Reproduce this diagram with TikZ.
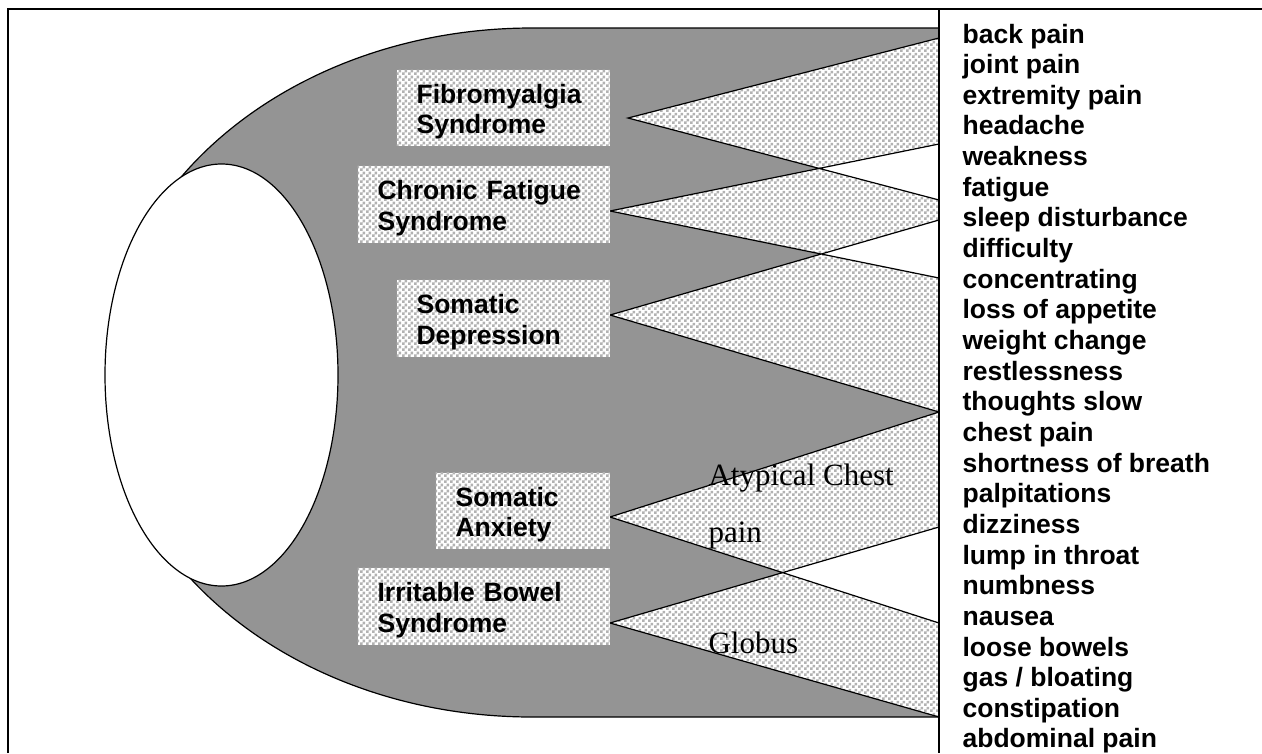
\documentclass[tikz,border=0pt]{standalone}
\usepackage{fontspec}
\setmainfont{Liberation Sans}
\newfontfamily\timesf{Liberation Serif}
\usetikzlibrary{patterns}
\definecolor{bggray}{RGB}{148,148,148}
\definecolor{chk}{RGB}{178,178,178}
\pgfdeclarepatternformonly{mycheck}{\pgfpointorigin}{\pgfqpoint{6pt}{6pt}}{\pgfqpoint{6pt}{6pt}}%
{%
  \pgfpathrectangle{\pgfpointorigin}{\pgfqpoint{3.05pt}{3.05pt}}%
  \pgfpathrectangle{\pgfqpoint{3pt}{3pt}}{\pgfqpoint{3.05pt}{3.05pt}}%
  \pgfusepath{fill}%
}
\newcommand{\topstrut}{\rule{0pt}{27pt}}
\begin{document}
\begin{tikzpicture}[x=1pt,y=-1pt,line width=1.2pt,
  checkfill/.style={fill=white,postaction={pattern=mycheck,pattern color=chk}},
  box/.style={checkfill,draw=none,align=left,inner xsep=20pt,inner ysep=0pt,
    anchor=north west,font=\bfseries\fontsize{26.5}{30.5}\selectfont},
  sym/.style={anchor=base west,inner sep=0pt,font=\bfseries\fontsize{26.5}{30.5}\selectfont},
  ser/.style={anchor=base west,inner sep=0pt,font=\timesf\fontsize{31}{36}\selectfont}]
\useasboundingbox (0,0) rectangle (1262,753);

% grey body
\draw[fill=bggray] (939,28) -- (532,28)
  arc[start angle=90,end angle=270,x radius=426pt,y radius=344.5pt] -- (939,717);

% wedge points
\coordinate (fA) at (628,118); \coordinate (fT) at (939,38);  \coordinate (fB) at (939,200);
\coordinate (cA) at (610,211); \coordinate (cT) at (939,144); \coordinate (cB) at (939,278);
\coordinate (dA) at (610,315); \coordinate (dT) at (939,220); \coordinate (dB) at (939,412);
\coordinate (aA) at (610,517); \coordinate (aT) at (939,412); \coordinate (aB) at (939,623);
\coordinate (iA) at (610,623); \coordinate (iT) at (939,527); \coordinate (iB) at (939,717);

\fill[white] (fA)--(fT)--(fB)--cycle (cA)--(cT)--(cB)--cycle (dA)--(dT)--(dB)--cycle
  (aA)--(aT)--(aB)--cycle (iA)--(iT)--(iB)--cycle;
\fill[pattern=mycheck,pattern color=chk,even odd rule]
  (fA)--(fT)--(fB)--cycle (cA)--(cT)--(cB)--cycle (dA)--(dT)--(dB)--cycle
  (aA)--(aT)--(aB)--cycle (iA)--(iT)--(iB)--cycle;
\draw (fT)--(fA)--(fB) (cT)--(cA)--(cB) (dT)--(dA)--(dB) (aT)--(aA)--(aB) (iT)--(iA)--(iB);

% boxes
\node[box,text width=173pt,minimum height=76pt] (fib) at (396,69) {\topstrut Fibromyalgia\\Syndrome};
\node[box,text width=212pt,minimum height=77pt] (cfs) at (357,165) {\topstrut Chronic Fatigue\\Syndrome};
\node[box,text width=173pt,minimum height=77pt] (dep) at (396,279) {\topstrut Somatic\\Depression};
\node[box,text width=134pt,minimum height=76pt] (anx) at (435,472) {\topstrut Somatic\\Anxiety};
\node[box,text width=212pt,minimum height=77pt] (ibs) at (357,567) {\topstrut Irritable Bowel\\Syndrome};

% white ellipse
\draw[fill=white] (221.5,375) ellipse [x radius=116.5pt,y radius=211pt];

% frame
\draw (8,753) -- (8,9) -- (1262,9);
\draw (939,9) -- (939,753);

% serif labels
\node[ser] (atc) at (708,485) {Atypical Chest};
\node[ser] (pn) at (708,542) {pain};
\node[ser] (glob) at (708,653) {Globus};

% symptom list
\foreach \t [count=\i from 0] in {back pain,joint pain,extremity pain,headache,weakness,fatigue,
  sleep disturbance,difficulty,concentrating,loss of appetite,weight change,restlessness,
  thoughts slow,chest pain,shortness of breath,palpitations,dizziness,lump in throat,
  numbness,nausea,loose bowels,gas / bloating,constipation,abdominal pain}
  \node[sym] (s\i) at (962,{43+30.65*\i}) {\t};
\end{tikzpicture}
\end{document}
